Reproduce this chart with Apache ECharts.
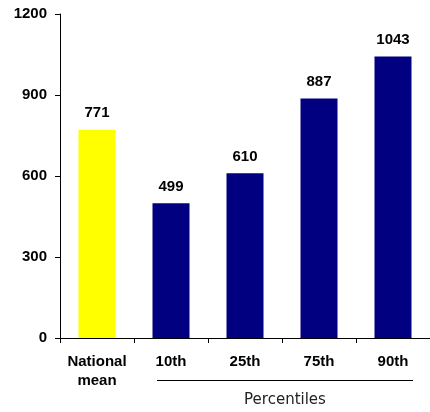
<!DOCTYPE html>
<html>
<head>
<meta charset="utf-8">
<script src="https://cdn.jsdelivr.net/npm/echarts@6/dist/echarts.min.js"></script>
<style>
  html, body { margin: 0; padding: 0; background: #fff; }
  #chart { width: 430px; height: 412px; }
</style>
</head>
<body>
<div id="chart"></div>
<script>
// Per-category values: national mean followed by the percentile groups
const categories = ['National\nmean', '10th', '25th', '75th', '90th'];
const values = [771, 499, 610, 887, 1043];
const barColors = ['#FFFF00', '#000080', '#000080', '#000080', '#000080'];
const yTicks = [0, 300, 600, 900, 1200];
const groupTitle = 'Percentiles';

const chart = echarts.init(document.getElementById('chart'), null, { renderer: 'canvas' });

const boldFont = '"Liberation Sans", Arial, sans-serif';

const option = {
  animation: false,
  backgroundColor: '#ffffff',
  grid: { left: 60, right: -4, top: 14, bottom: 74 },
  xAxis: {
    type: 'category',
    data: categories,
    axisLine: { lineStyle: { color: '#000', width: 1 } },
    axisTick: { show: true, alignWithLabel: false, length: 5, lineStyle: { color: '#000' } },
    axisLabel: {
      margin: 14,
      color: '#000',
      fontFamily: boldFont,
      fontWeight: 'bold',
      fontSize: 15,
      lineHeight: 19,
      interval: 0
    },
    splitLine: { show: false }
  },
  yAxis: {
    type: 'value',
    min: yTicks[0],
    max: yTicks[yTicks.length - 1],
    interval: yTicks[1] - yTicks[0],
    axisLine: { show: true, lineStyle: { color: '#000', width: 1 } },
    axisTick: { show: true, length: 5, lineStyle: { color: '#000' } },
    axisLabel: {
      margin: 13,
      color: '#000',
      fontFamily: boldFont,
      fontWeight: 'bold',
      fontSize: 15,
      formatter: v => String(v)
    },
    splitLine: { show: false }
  },
  series: [{
    type: 'bar',
    data: values.map((v, i) => ({ value: v, itemStyle: { color: barColors[i] } })),
    barWidth: 37,
    label: {
      show: true,
      position: 'top',
      distance: 9,
      color: '#000',
      fontFamily: boldFont,
      fontWeight: 'bold',
      fontSize: 15
    }
  }]
};

chart.setOption(option);

// Bracket line under the percentile categories, with its caption
const leftX = chart.convertToPixel({ xAxisIndex: 0 }, categories[1]) - 14;
const rightX = chart.convertToPixel({ xAxisIndex: 0 }, categories[4]) + 20;
chart.setOption({
  graphic: [
    {
      type: 'line',
      shape: { x1: leftX, y1: 380.5, x2: rightX, y2: 380.5 },
      style: { stroke: '#000', lineWidth: 1 }
    },
    {
      type: 'text',
      x: (leftX + rightX) / 2,
      y: 400,
      style: {
        text: groupTitle,
        fill: '#222',
        font: '15px "DejaVu Sans", Verdana, sans-serif',
        align: 'center',
        verticalAlign: 'middle'
      }
    }
  ]
});
</script>
</body>
</html>
